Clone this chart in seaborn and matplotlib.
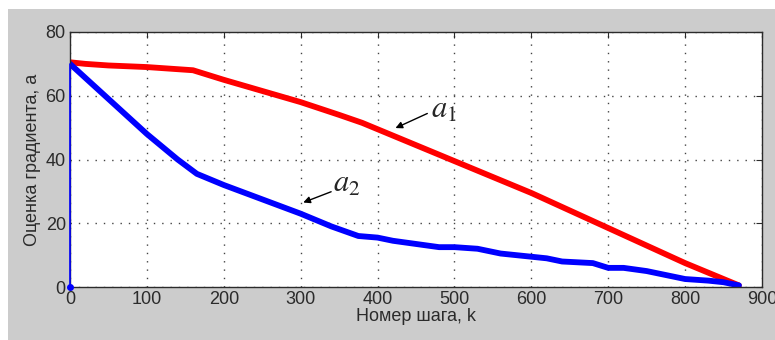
"""Gradient estimate vs step number, MATLAB-style figure."""

import matplotlib

matplotlib.use("Agg")
import matplotlib.pyplot as plt
import pandas as pd
import seaborn as sns
from matplotlib.patches import Rectangle

# step numbers and estimates for a1 (red)
a1_steps = [0, 20, 50, 100, 130, 160, 200, 250, 300, 350, 380, 400, 450,
            500, 550, 600, 650, 700, 750, 800, 840, 870]
a1_values = [70.5, 70, 69.5, 69, 68.5, 68, 65, 61.5, 58, 54, 51.5, 49.5, 44.5,
             39.5, 34.5, 29.5, 24, 18.5, 13, 7.5, 3.5, 0.5]

# step numbers and estimates for a2 (blue)
a2_steps = [0, 50, 100, 140, 165, 200, 250, 300, 340, 375, 400, 420, 450, 480,
            500, 530, 560, 600, 620, 640, 680, 700, 720, 750, 780, 800, 830,
            850, 870]
a2_values = [70, 59, 48, 40, 35.5, 32, 27.5, 23, 19, 16, 15.5, 14.5, 13.5, 12.5,
             12.5, 12, 10.5, 9.5, 9, 8, 7.5, 6, 6, 5, 3.5, 2.5, 2, 1.5, 0.5]

x_ticks = [0, 100, 200, 300, 400, 500, 600, 700, 800, 900]
y_ticks = [0, 20, 40, 60, 80]

GRAY_BG = "#cccccc"
RED = "#ff0000"
BLUE = "#0000ff"
INK = "#2b2b2b"


def main():
    sns.set_theme(style="white")
    plt.rcParams["font.family"] = ["Liberation Sans", "DejaVu Sans"]
    plt.rcParams["mathtext.fontset"] = "stix"

    fig = plt.figure(figsize=(7.75, 3.4), dpi=100, facecolor="white")
    fig.patches.append(
        Rectangle((8 / 775, 0), 1, 1 - 9 / 340, transform=fig.transFigure,
                  facecolor=GRAY_BG, edgecolor="none", zorder=-10)
    )
    ax = fig.add_axes([70 / 775, 53 / 340, 692 / 775, 255 / 340])
    ax.set_facecolor("white")

    a1 = pd.DataFrame({"k": a1_steps, "a": a1_values})
    a2 = pd.DataFrame({"k": a2_steps, "a": a2_values})

    # thin start-up jump of a2 from 0 to its initial value
    ax.plot([a2_steps[0], a2_steps[0]], [0, a2_values[0]], color=BLUE, lw=1.2,
            zorder=3, clip_on=False)
    ax.plot([a2_steps[0]], [0], "o", color=BLUE, ms=4, zorder=3, clip_on=False)

    sns.lineplot(data=a1, x="k", y="a", color=RED, lw=4.2, ax=ax,
                 solid_joinstyle="round", solid_capstyle="round")
    sns.lineplot(data=a2, x="k", y="a", color=BLUE, lw=4.2, ax=ax,
                 solid_joinstyle="round", solid_capstyle="round")

    ax.set_xlim(0, 900)
    ax.set_ylim(0, 80)
    ax.set_xticks(x_ticks)
    ax.set_yticks(y_ticks)
    ax.grid(True, linestyle=(0, (1, 5)), color="#444444", lw=1.0)
    ax.set_axisbelow(True)
    ax.tick_params(direction="in", length=4, width=0.8, colors=INK,
                   labelcolor=INK, labelsize=13, top=True, right=True, pad=3)
    for spine in ax.spines.values():
        spine.set_color(INK)
        spine.set_linewidth(1.0)

    ax.set_xlabel("Номер шага, k", fontsize=13, color=INK, labelpad=0)
    ax.set_ylabel("Оценка градиента, a", fontsize=13, color=INK, labelpad=3)

    arrow = dict(arrowstyle="-|>", color="black", lw=1.0, mutation_scale=10)
    ax.annotate("", xy=(420, 49.5), xytext=(468, 54.8), arrowprops=arrow)
    ax.text(470, 55.5, r"$a_1$", fontsize=22, ha="left", va="center")
    ax.annotate("", xy=(300, 26.2), xytext=(343, 30.2), arrowprops=arrow)
    ax.text(342, 32.5, r"$a_2$", fontsize=22, ha="left", va="center")

    fig.savefig("out.png", dpi=100, facecolor=fig.get_facecolor())


if __name__ == "__main__":
    main()
